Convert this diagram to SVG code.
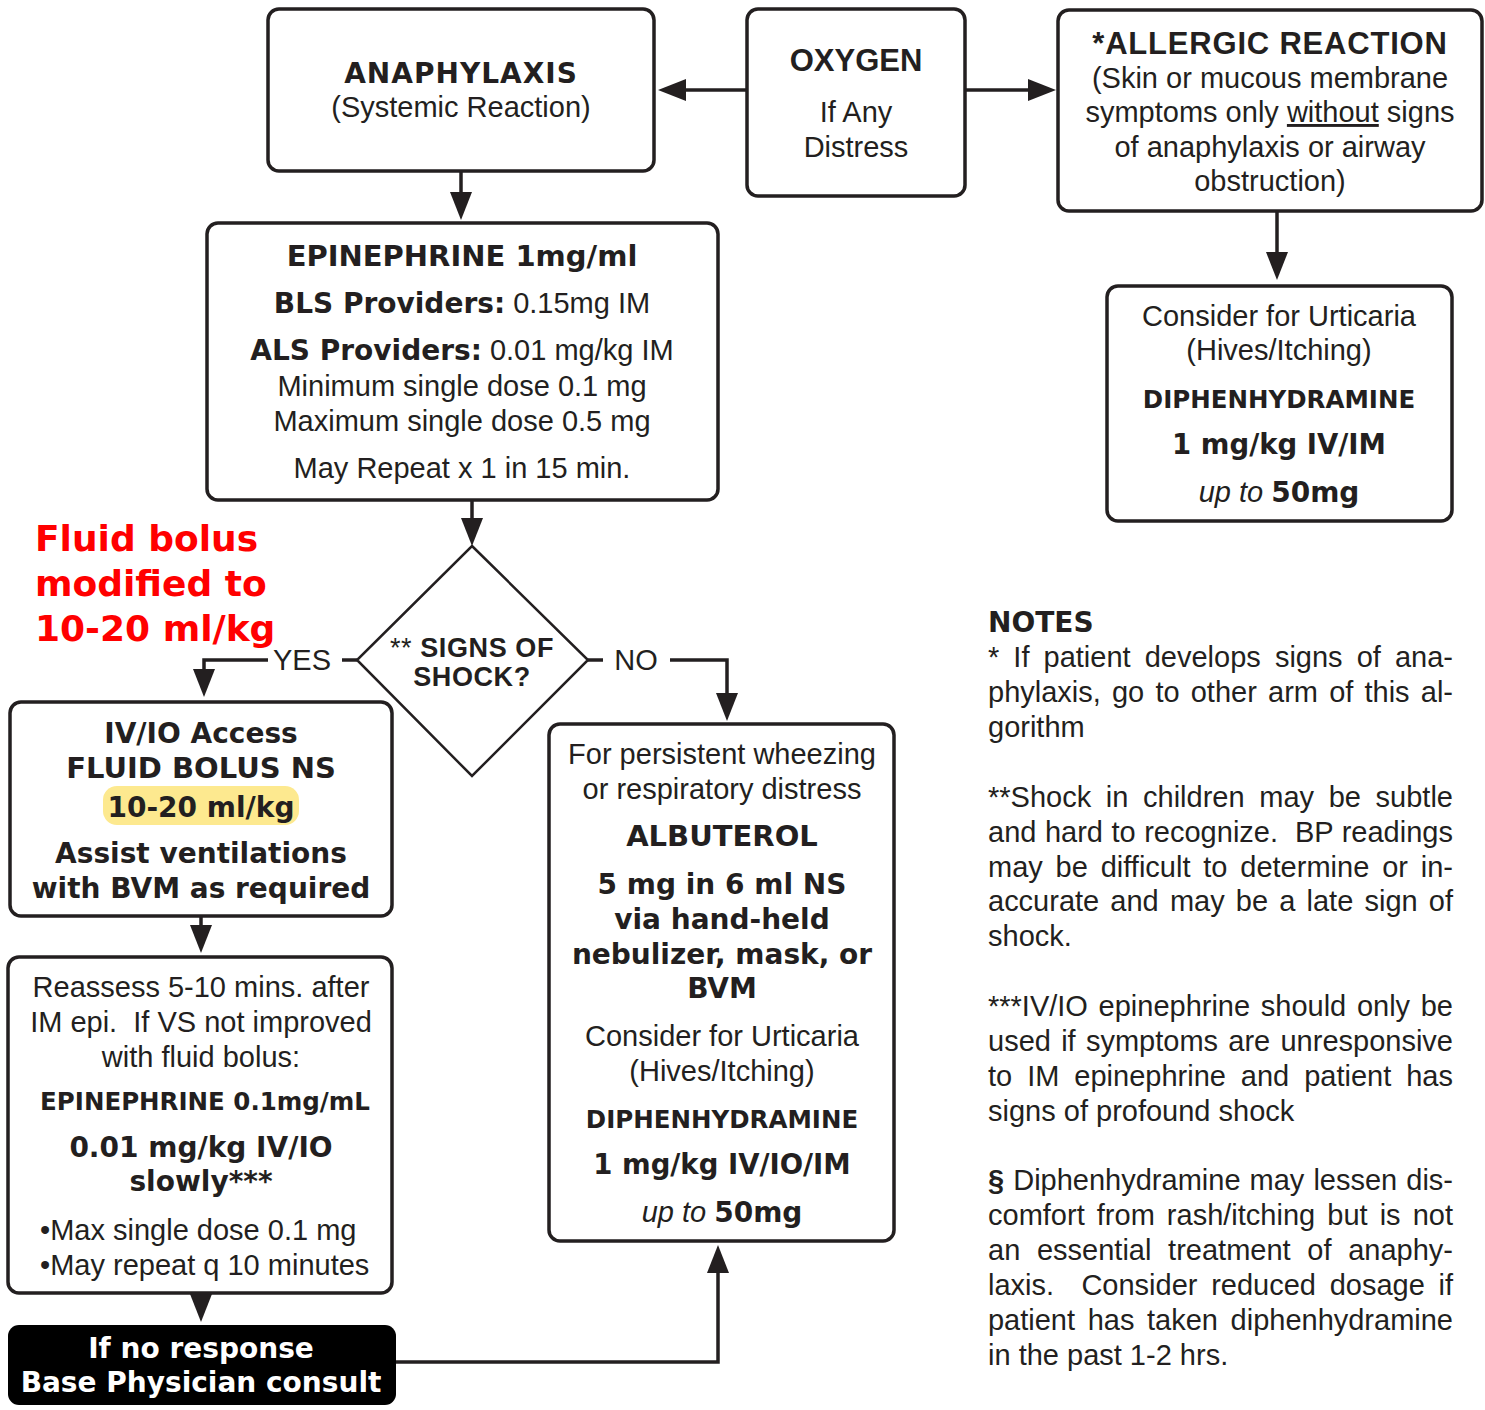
<svg xmlns="http://www.w3.org/2000/svg" width="1485" height="1410" viewBox="0 0 1485 1410">
<style>
text{fill:#231f20;text-anchor:middle}
.r{font-family:"Liberation Sans",Arial,sans-serif;font-size:29px}
.i{font-style:italic}
.b{font-family:"DejaVu Sans","Liberation Sans",sans-serif;font-weight:bold;font-size:28px}
.h{font-family:"Liberation Sans",Arial,sans-serif;font-weight:bold;font-size:31px}
.box{fill:#fff;stroke:#231f20;stroke-width:3.5}
.con{fill:none;stroke:#231f20;stroke-width:3.5}
.red{fill:#ff0000;font-family:"DejaVu Sans",sans-serif;font-weight:bold;font-size:36px;text-anchor:start}
.n{font-family:"Liberation Sans",Arial,sans-serif;font-size:29px;text-anchor:start}
.w{fill:#fff}
.s24{font-size:24.5px}
.s27{font-size:27.5px}
.s29{font-size:29px}
.d{font-size:27px;letter-spacing:0.6px}
</style>
<defs>
<marker id="arr" viewBox="0 0 28 22" refX="18" refY="11" markerWidth="28" markerHeight="22" markerUnits="userSpaceOnUse" orient="auto">
<path d="M0,0 L28,11 L0,22 Z" fill="#231f20"/>
</marker>
</defs>

<g id="connectors">
<line class="con" x1="747" y1="90" x2="668" y2="90" marker-end="url(#arr)"/>
<line class="con" x1="965" y1="90" x2="1046" y2="90" marker-end="url(#arr)"/>
<line class="con" x1="461" y1="172" x2="461" y2="210" marker-end="url(#arr)"/>
<line class="con" x1="1277" y1="211" x2="1277" y2="270" marker-end="url(#arr)"/>
<line class="con" x1="472" y1="500" x2="472" y2="536" marker-end="url(#arr)"/>
<line class="con" x1="357" y1="660" x2="342" y2="660"/>
<text class="r" x="302" y="670">YES</text>
<polyline class="con" points="268,660 204,660 204,687" marker-end="url(#arr)"/>
<line class="con" x1="588" y1="660" x2="603" y2="660"/>
<text class="r" x="636" y="670">NO</text>
<polyline class="con" points="670,660 727,660 727,711" marker-end="url(#arr)"/>
<line class="con" x1="201" y1="916" x2="201" y2="943" marker-end="url(#arr)"/>
<line class="con" x1="201" y1="1293" x2="201" y2="1312" marker-end="url(#arr)"/>
<polyline class="con" points="396,1362 718,1362 718,1255" marker-end="url(#arr)"/>
</g>

<g id="anaphylaxis">
<rect class="box" x="268" y="9" width="386" height="162" rx="11"/>
<text class="b" x="461" y="83" letter-spacing="1">ANAPHYLAXIS</text>
<text class="r" x="461" y="117">(Systemic Reaction)</text>
</g>

<g id="oxygen">
<rect class="box" x="747" y="9" width="218" height="187" rx="11"/>
<text class="h" x="856" y="71">OXYGEN</text>
<text class="r" x="856" y="122">If Any</text>
<text class="r" x="856" y="157">Distress</text>
</g>

<g id="allergic">
<rect class="box" x="1058" y="10" width="424" height="201" rx="11"/>
<text class="h" x="1270" y="54" letter-spacing="0.8">*ALLERGIC REACTION</text>
<text class="r" x="1270" y="88">(Skin or mucous membrane</text>
<text class="r" x="1270" y="122">symptoms only <tspan text-decoration="underline">without</tspan> signs</text>
<text class="r" x="1270" y="157">of anaphylaxis or airway</text>
<text class="r" x="1270" y="191">obstruction)</text>
</g>

<g id="urticaria">
<rect class="box" x="1107" y="286" width="345" height="235" rx="11"/>
<text class="r" x="1279" y="326">Consider for Urticaria</text>
<text class="r" x="1279" y="360">(Hives/Itching)</text>
<text class="b s24" x="1279" y="408">DIPHENHYDRAMINE</text>
<text class="b s27" x="1279" y="454">1 mg/kg IV/IM</text>
<text class="r" x="1279" y="502"><tspan class="i">up to</tspan> <tspan class="b">50mg</tspan></text>
</g>

<g id="epinephrine">
<rect class="box" x="207" y="223" width="511" height="277" rx="11"/>
<text class="b s29" x="462" y="266">EPINEPHRINE 1mg/ml</text>
<text class="r" x="462" y="313"><tspan class="b">BLS Providers:</tspan> 0.15mg IM</text>
<text class="r" x="462" y="360"><tspan class="b">ALS Providers:</tspan> 0.01 mg/kg IM</text>
<text class="r" x="462" y="396">Minimum single dose 0.1 mg</text>
<text class="r" x="462" y="431">Maximum single dose 0.5 mg</text>
<text class="r" x="462" y="478">May Repeat x 1 in 15 min.</text>
</g>

<g id="note-red">
<text class="red" x="35" y="551">Fluid bolus</text>
<text class="red" x="35" y="596">modified to</text>
<text class="red" x="35" y="641">10-20 ml/kg</text>
</g>

<g id="shock">
<polygon points="472,546 588,660 472,776 357,660" fill="#fff" stroke="#231f20" stroke-width="2.5"/>
<text class="h d" x="472" y="657"><tspan font-weight="normal">**</tspan> SIGNS OF</text>
<text class="h d" x="472" y="686">SHOCK?</text>
</g>

<g id="fluid">
<rect class="box" x="10" y="702" width="382" height="214" rx="11"/>
<text class="b" x="201" y="743">IV/IO Access</text>
<text class="b s29" x="201" y="778">FLUID BOLUS NS</text>
<rect x="103" y="786" width="196" height="39" rx="14" fill="#fde98f"/>
<text class="b" x="201" y="817">10-20 ml/kg</text>
<text class="b" x="201" y="863">Assist ventilations</text>
<text class="b" x="201" y="898">with BVM as required</text>
</g>

<g id="reassess">
<rect class="box" x="8" y="957" width="384" height="336" rx="11"/>
<text class="r" x="201" y="997">Reassess 5-10 mins. after</text>
<text class="r" x="201" y="1032">IM epi.&#160; If VS not improved</text>
<text class="r" x="201" y="1067">with fluid bolus:</text>
<text class="b s24" x="205" y="1110">EPINEPHRINE 0.1mg/mL</text>
<text class="b" x="201" y="1157">0.01 mg/kg IV/IO</text>
<text class="b" x="201" y="1191">slowly***</text>
<text class="r" x="40" y="1240" style="text-anchor:start">•Max single dose 0.1 mg</text>
<text class="r" x="40" y="1275" style="text-anchor:start">•May repeat q 10 minutes</text>
</g>

<g id="consult">
<rect x="8" y="1325" width="388" height="80" rx="11" fill="#000"/>
<text class="b w" x="201" y="1358">If no response</text>
<text class="b w" x="201" y="1392">Base Physician consult</text>
</g>

<g id="albuterol">
<rect class="box" x="549" y="724" width="345" height="517" rx="11"/>
<text class="r" x="722" y="764">For persistent wheezing</text>
<text class="r" x="722" y="799">or respiratory distress</text>
<text class="b s29" x="722" y="846">ALBUTEROL</text>
<text class="b" x="722" y="894">5 mg in 6 ml NS</text>
<text class="b" x="722" y="929">via hand-held</text>
<text class="b" x="722" y="964">nebulizer, mask, or</text>
<text class="b" x="722" y="998">BVM</text>
<text class="r" x="722" y="1046">Consider for Urticaria</text>
<text class="r" x="722" y="1081">(Hives/Itching)</text>
<text class="b s24" x="722" y="1128">DIPHENHYDRAMINE</text>
<text class="b s27" x="722" y="1174">1 mg/kg IV/IO/IM</text>
<text class="r" x="722" y="1222"><tspan class="i">up to</tspan> <tspan class="b">50mg</tspan></text>
</g>

<g id="notes">
<text class="b" x="988" y="632" style="text-anchor:start">NOTES</text>
<text class="n" x="988" y="667" word-spacing="6" textLength="465" lengthAdjust="spacing">* If patient develops signs of ana-</text>
<text class="n" x="988" y="702" word-spacing="3.1" textLength="465" lengthAdjust="spacing">phylaxis, go to other arm of this al-</text>
<text class="n" x="988" y="737">gorithm</text>
<text class="n" x="988" y="807" word-spacing="6.6" textLength="465" lengthAdjust="spacing">**Shock in children may be subtle</text>
<text class="n" x="988" y="842" word-spacing="0.4" textLength="465" lengthAdjust="spacing">and hard to recognize.&#160; BP readings</text>
<text class="n" x="988" y="877" word-spacing="4.7" textLength="465" lengthAdjust="spacing">may be difficult to determine or in-</text>
<text class="n" x="988" y="911" word-spacing="3.1" textLength="465" lengthAdjust="spacing">accurate and may be a late sign of</text>
<text class="n" x="988" y="946">shock.</text>
<text class="n" x="988" y="1016" word-spacing="2.6" textLength="465" lengthAdjust="spacing">***IV/IO epinephrine should only be</text>
<text class="n" x="988" y="1051" word-spacing="2.2" textLength="465" lengthAdjust="spacing">used if symptoms are unresponsive</text>
<text class="n" x="988" y="1086" word-spacing="6.9" textLength="465" lengthAdjust="spacing">to IM epinephrine and patient has</text>
<text class="n" x="988" y="1121">signs of profound shock</text>
<text class="n" x="988" y="1190" word-spacing="1" textLength="465" lengthAdjust="spacing"><tspan font-weight="bold">§</tspan> Diphenhydramine may lessen dis-</text>
<text class="n" x="988" y="1225" word-spacing="4" textLength="465" lengthAdjust="spacing">comfort from rash/itching but is not</text>
<text class="n" x="988" y="1260" word-spacing="8.65" textLength="465" lengthAdjust="spacing">an essential treatment of anaphy-</text>
<text class="n" x="988" y="1295" word-spacing="5.6" textLength="465" lengthAdjust="spacing">laxis.&#160; Consider reduced dosage if</text>
<text class="n" x="988" y="1330" word-spacing="4.6" textLength="465" lengthAdjust="spacing">patient has taken diphenhydramine</text>
<text class="n" x="988" y="1365">in the past 1-2 hrs.</text>
</g>
</svg>
